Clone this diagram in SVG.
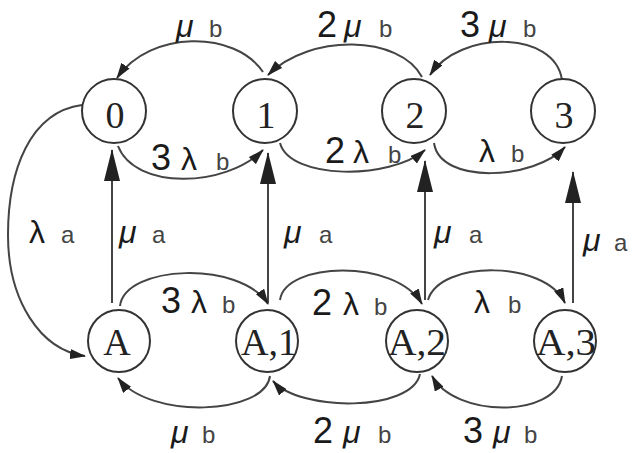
<svg xmlns="http://www.w3.org/2000/svg" width="632" height="453" viewBox="0 0 632 453">
<defs>
<style>
.node{fill:#fff;stroke:#333;stroke-width:2}
.nl{font-family:"Liberation Serif",serif;font-size:38px;fill:#222;text-anchor:middle}
.c{fill:none;stroke:#444;stroke-width:2}
.lab{font-family:"Liberation Sans",Arial,sans-serif;fill:#1a1a1a}
.d{font-size:36px}
.g{font-size:32px}
.gi{font-size:32px;font-style:italic}
.l{font-size:24px;fill:#444}
</style>
<marker id="ah" markerUnits="userSpaceOnUse" markerWidth="16" markerHeight="10" refX="15" refY="5" orient="auto">
<path d="M0,0 L16,5 L0,10 z" fill="#222"/>
</marker>
<marker id="big" markerUnits="userSpaceOnUse" markerWidth="32" markerHeight="16" refX="31" refY="8" orient="auto">
<path d="M0,0 L32,8 L0,16 z" fill="#222"/>
</marker>
</defs>
<rect width="632" height="453" fill="#fff"/>
<g id="connectors">
<path class="c" marker-end="url(#ah)" d="M263,72 C235,30 150,30 117,78"/>
<path class="c" marker-end="url(#ah)" d="M422,77 C400,35 310,33 268,75"/>
<path class="c" marker-end="url(#ah)" d="M562,80 C555,30 460,30 430,75"/>
<path class="c" marker-end="url(#ah)" d="M118,146 C135,190 225,188 263,150"/>
<path class="c" marker-end="url(#ah)" d="M280,143 C290,180 390,180 425,150"/>
<path class="c" marker-end="url(#ah)" d="M434,143 C440,185 535,180 565,147"/>
<path class="c" marker-end="url(#ah)" d="M82,105 C30,112 8,170 8,235 C8,300 40,350 85,356"/>
<line class="c" marker-end="url(#big)" x1="112" y1="303" x2="112" y2="150"/>
<line class="c" marker-end="url(#big)" x1="268" y1="303" x2="268" y2="153"/>
<line class="c" marker-end="url(#big)" x1="425" y1="300" x2="425" y2="161"/>
<line class="c" marker-end="url(#big)" x1="573" y1="303" x2="573" y2="172"/>
<path class="c" marker-end="url(#ah)" d="M120,306 C125,265 240,260 268,304"/>
<path class="c" marker-end="url(#ah)" d="M280,300 C285,262 395,258 422,304"/>
<path class="c" marker-end="url(#ah)" d="M428,300 C440,260 545,260 565,303"/>
<path class="c" marker-end="url(#ah)" d="M270,376 C265,415 150,420 118,378"/>
<path class="c" marker-end="url(#ah)" d="M420,374 C412,412 300,412 273,381"/>
<path class="c" marker-end="url(#ah)" d="M562,376 C555,418 455,418 432,376"/>
</g>
<g id="n0"><circle class="node" cx="114" cy="111" r="32"/><text class="nl" x="115" y="128">0</text></g>
<g id="n1"><circle class="node" cx="265" cy="111" r="32"/><text class="nl" x="266" y="128">1</text></g>
<g id="n2"><circle class="node" cx="414" cy="111" r="32"/><text class="nl" x="415" y="128">2</text></g>
<g id="n3"><circle class="node" cx="563" cy="111" r="32"/><text class="nl" x="564" y="128">3</text></g>
<g id="nA"><circle class="node" cx="119" cy="341" r="31"/><text class="nl" x="117" y="355">A</text></g>
<g id="nA1"><circle class="node" cx="267" cy="341" r="31"/><text class="nl" x="269" y="355" textLength="56" lengthAdjust="spacingAndGlyphs">A,1</text></g>
<g id="nA2"><circle class="node" cx="417" cy="341" r="31"/><text class="nl" x="417" y="355" textLength="58" lengthAdjust="spacingAndGlyphs">A,2</text></g>
<g id="nA3"><circle class="node" cx="565" cy="341" r="31"/><text class="nl" x="566" y="355" textLength="60" lengthAdjust="spacingAndGlyphs">A,3</text></g>
<g id="labels" class="lab">
<text y="37"><tspan class="gi" x="176">μ</tspan><tspan class="l" x="209">b</tspan></text>
<text y="37"><tspan class="d" x="317">2</tspan><tspan class="gi" x="344">μ</tspan><tspan class="l" x="379">b</tspan></text>
<text y="37"><tspan class="d" x="460">3</tspan><tspan class="gi" x="489">μ</tspan><tspan class="l" x="523">b</tspan></text>
<text y="170"><tspan class="d" x="151">3</tspan><tspan class="g" x="181">λ</tspan><tspan class="l" x="216">b</tspan></text>
<text y="163"><tspan class="d" x="325">2</tspan><tspan class="g" x="353">λ</tspan><tspan class="l" x="388">b</tspan></text>
<text y="162"><tspan class="g" x="479">λ</tspan><tspan class="l" x="511">b</tspan></text>
<text y="243"><tspan class="g" x="29">λ</tspan><tspan class="l" x="61">a</tspan></text>
<text y="243"><tspan class="gi" x="119">μ</tspan><tspan class="l" x="152">a</tspan></text>
<text y="243"><tspan class="gi" x="284">μ</tspan><tspan class="l" x="319">a</tspan></text>
<text y="243"><tspan class="gi" x="434">μ</tspan><tspan class="l" x="469">a</tspan></text>
<text y="251"><tspan class="gi" x="583">μ</tspan><tspan class="l" x="614">a</tspan></text>
<text y="313"><tspan class="d" x="161">3</tspan><tspan class="g" x="191">λ</tspan><tspan class="l" x="222">b</tspan></text>
<text y="315"><tspan class="d" x="312">2</tspan><tspan class="g" x="343">λ</tspan><tspan class="l" x="374">b</tspan></text>
<text y="313"><tspan class="g" x="474">λ</tspan><tspan class="l" x="508">b</tspan></text>
<text y="443"><tspan class="gi" x="171">μ</tspan><tspan class="l" x="202">b</tspan></text>
<text y="443"><tspan class="d" x="313">2</tspan><tspan class="gi" x="343">μ</tspan><tspan class="l" x="378">b</tspan></text>
<text y="443"><tspan class="d" x="463">3</tspan><tspan class="gi" x="493">μ</tspan><tspan class="l" x="524">b</tspan></text>
</g>
</svg>
